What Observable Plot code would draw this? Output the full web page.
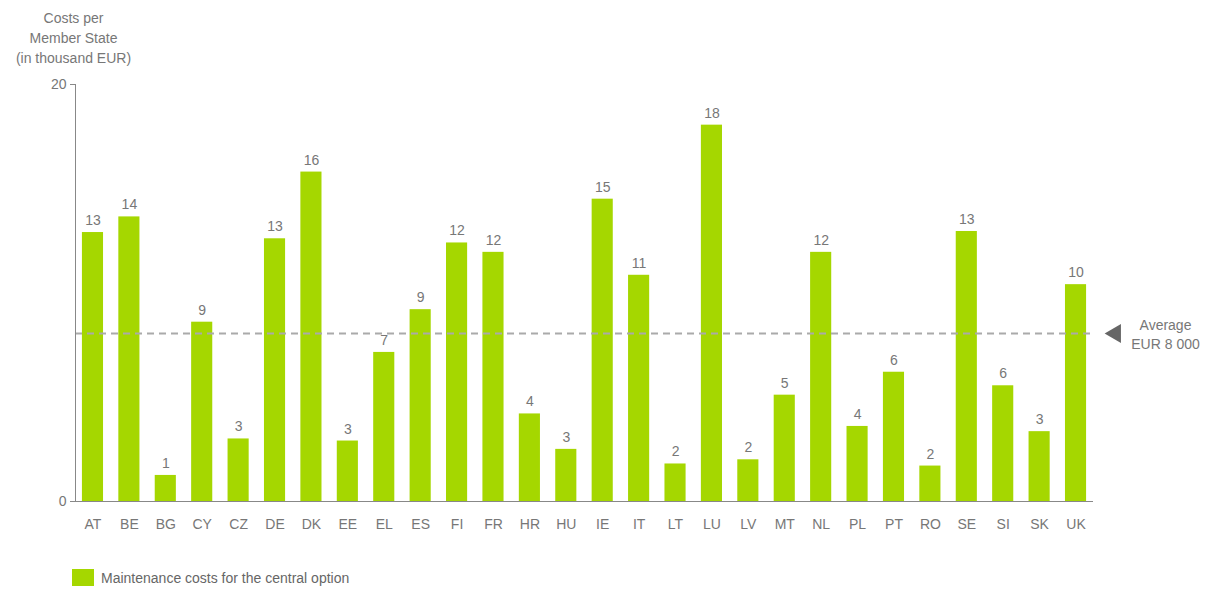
<!DOCTYPE html>
<html><head><meta charset="utf-8">
<script src="https://cdn.jsdelivr.net/npm/d3@7"></script>
<script src="https://cdn.jsdelivr.net/npm/@observablehq/plot@0.6"></script>
<style>
body{margin:0;background:#fff;font-family:"Liberation Sans",Arial,sans-serif;}
#legend{position:absolute;left:72px;top:569px;display:flex;align-items:center;font-size:14px;color:#666;}
#legend span.sw{display:inline-block;width:22px;height:17px;background:#a5d700;margin-right:7px;}
</style></head><body>
<div id="chart"></div>
<div id="legend"><span class="sw"></span><span>Maintenance costs for the central option</span></div>
<script>
const countries = ["AT","BE","BG","CY","CZ","DE","DK","EE","EL","ES","FI","FR","HR","HU","IE","IT","LT","LU","LV","MT","NL","PL","PT","RO","SE","SI","SK","UK"];
const costs = [12.9,13.65,1.25,8.6,3.0,12.6,15.8,2.9,7.15,9.2,12.4,11.95,4.2,2.5,14.5,10.85,1.8,18.05,2.0,5.1,11.95,3.6,6.2,1.7,12.95,5.55,3.35,10.4];
const average = 8.06;
const yTicks = [0, 20];
const data = countries.map((c,i)=>({country:c, value:costs[i]}));
const gray = "#777";
const plot = Plot.plot({
  width: 1207, height: 545,
  marginTop: 84, marginBottom: 44, marginLeft: 75, marginRight: 114,
  style: {fontFamily: "'Liberation Sans', Arial, sans-serif", fontSize: "14px", color: gray},
  x: {domain: countries, paddingInner: 0.42, paddingOuter: 0.19, round: false, label: null},
  y: {domain: [0, 20], label: null},
  marks: [
    Plot.barY(data, {x:"country", y:"value", fill:"#a5d700"}),
    Plot.text(data, {x:"country", y:"value", text: d=>Math.round(d.value), dy:-12, fill:gray, fontSize:14}),
    Plot.ruleY([average], {stroke:"#aaa", strokeWidth:2, strokeDasharray:"7,5"}),
    Plot.ruleY([0], {stroke:"#888", strokeWidth:1}),
    Plot.axisY(yTicks, {tickSize:5, tickPadding:4, stroke:"#888", fill:gray, fontSize:14, label:null}),
    Plot.frame({anchor:"left", stroke:"#888"}),
    Plot.axisX({tickSize:0, tickPadding:18, fill:gray, fontSize:14, label:null}),
    Plot.text(["Costs per\nMember State\n(in thousand EUR)"], {frameAnchor:"top-left", dx:-2, dy:-75, textAnchor:"middle", lineAnchor:"top", fill:gray, fontSize:14, lineHeight:1.4}),
    Plot.dot([average], {y: d=>d, frameAnchor:"right", dx:22, symbol:"triangle", r:7, rotate:-90, fill:"#666"}),
    Plot.text(["Average\nEUR 8 000"], {y: [average], frameAnchor:"right", dx:72, textAnchor:"middle", fill:gray, fontSize:14, lineHeight:1.35})
  ]
});
document.getElementById("chart").appendChild(plot);
</script>
</body></html>
